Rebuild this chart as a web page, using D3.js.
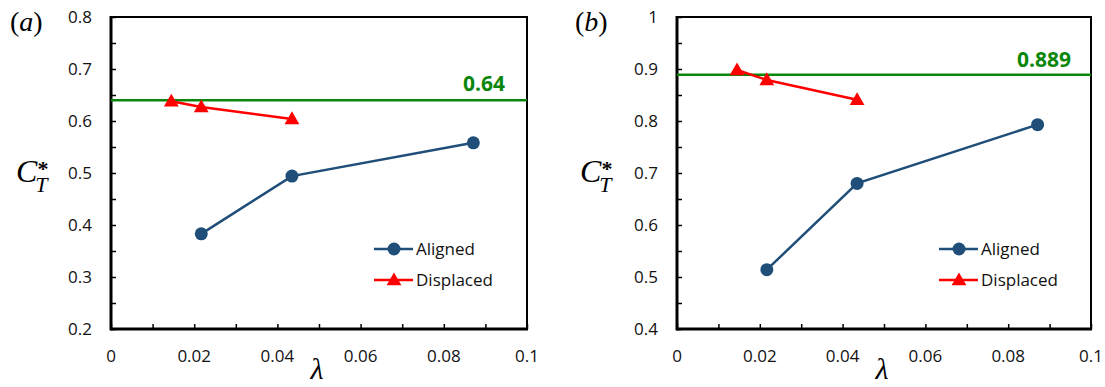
<!DOCTYPE html>
<html>
<head>
<meta charset="utf-8">
<script src="https://cdn.jsdelivr.net/npm/d3@7"></script>
<style>
    html, body { margin: 0; padding: 0; background: #fff; }
    svg { display: block; }
</style>
</head>
<body>
<div id="chart"></div>
<script>
// lambda values for each series
const alignedX = [0.0217, 0.0435, 0.0871];
const displacedX = [0.0145, 0.0217, 0.0435];

// panel (a)
const alignedA = [0.383, 0.494, 0.558];
const displacedA = [0.638, 0.627, 0.604];
const refA = 0.64;
const refLabelA = '0.64';
const yTicksA = [0.2, 0.3, 0.4, 0.5, 0.6, 0.7, 0.8];

// panel (b)
const alignedB = [0.514, 0.680, 0.793];
const displacedB = [0.898, 0.879, 0.841];
const refB = 0.889;
const refLabelB = '0.889';
const yTicksB = [0.4, 0.5, 0.6, 0.7, 0.8, 0.9, 1];

const xTicks = [0, 0.02, 0.04, 0.06, 0.08, 0.1];
const seriesNames = ['Aligned', 'Displaced'];

const COLORS = { aligned: '#1f4e79', displaced: '#ff0000', ref: '#0a870a', axis: '#000' };
const W = 1105, H = 387;
const SANS = 'Open Sans, sans-serif';
const SERIF = 'Liberation Serif, Times New Roman, serif';

const svg = d3.select('#chart').append('svg')
    .attr('width', W)
    .attr('height', H);

function drawPanel(opts) {
    const x = d3.scaleLinear().domain([0, 0.1]).range([opts.left, opts.right]);
    const y = d3.scaleLinear().domain([opts.yTicks[0], opts.yTicks[opts.yTicks.length - 1]]).range([opts.bottom, opts.top]);
    const g = svg.append('g');

    // plot frame (top/right thin)
    g.append('rect')
        .attr('x', opts.left).attr('y', opts.top)
        .attr('width', opts.right - opts.left).attr('height', opts.bottom - opts.top)
        .attr('fill', 'none').attr('stroke', COLORS.axis).attr('stroke-width', 2);

    // minor ticks, pointing inside
    const yMinor = d3.range(0, opts.yTicks.length * 2 - 1).map(i => opts.yTicks[0] + i * 0.05);
    const xMinor = d3.range(0, 11).map(i => i * 0.01);

    const yAxis = d3.axisRight(y).tickValues(yMinor).tickSize(5).tickFormat('');
    g.append('g').attr('transform', `translate(${opts.left},0)`).call(yAxis)
        .call(s => s.select('.domain').remove())
        .call(s => s.selectAll('line').attr('stroke-width', 1.5));

    const xAxis = d3.axisTop(x).tickValues(xMinor).tickSize(5).tickFormat('');
    g.append('g').attr('transform', `translate(0,${opts.bottom})`).call(xAxis)
        .call(s => s.select('.domain').remove())
        .call(s => s.selectAll('line').attr('stroke-width', 1.5));

    // thicker left/bottom axis lines
    g.append('line')
        .attr('x1', opts.left).attr('x2', opts.left)
        .attr('y1', opts.top - 1).attr('y2', opts.bottom + 1.5)
        .attr('stroke', COLORS.axis).attr('stroke-width', 3);
    g.append('line')
        .attr('x1', opts.left).attr('x2', opts.right + 1)
        .attr('y1', opts.bottom).attr('y2', opts.bottom)
        .attr('stroke', COLORS.axis).attr('stroke-width', 3);

    // tick labels
    g.selectAll('.ylab').data(opts.yTicks).enter().append('text')
        .attr('x', opts.left - 19)
        .attr('y', d => y(d) + 6)
        .attr('text-anchor', 'end')
        .attr('font-family', SANS)
        .attr('font-size', '17px')
        .attr('fill', '#111')
        .text(d => d3.format('~g')(d));

    g.selectAll('.xlab').data(xTicks).enter().append('text')
        .attr('x', d => x(d))
        .attr('y', opts.bottom + 33)
        .attr('text-anchor', 'middle')
        .attr('font-family', SANS)
        .attr('font-size', '17px')
        .attr('fill', '#111')
        .text(d => d3.format('~g')(d));

    // reference line
    g.append('line')
        .attr('x1', opts.left).attr('x2', opts.right)
        .attr('y1', y(opts.ref)).attr('y2', y(opts.ref))
        .attr('stroke', COLORS.ref).attr('stroke-width', 2.5);
    g.append('text')
        .attr('x', opts.right - opts.refPad)
        .attr('y', y(opts.ref) - opts.refGap)
        .attr('text-anchor', 'end')
        .attr('font-family', SANS)
        .attr('font-weight', 'bold')
        .attr('font-size', '21px')
        .attr('fill', COLORS.ref)
        .text(opts.refLabel);

    const line = d3.line().x(d => x(d[0])).y(d => y(d[1]));
    const tri = d3.symbol().type(d3.symbolTriangle).size(95);

    // aligned
    const aPts = alignedX.map((v, i) => [v, opts.aligned[i]]);
    g.append('path').datum(aPts).attr('d', line)
        .attr('fill', 'none').attr('stroke', COLORS.aligned).attr('stroke-width', 2.5);
    g.selectAll('.ac').data(aPts).enter().append('circle')
        .attr('cx', d => x(d[0])).attr('cy', d => y(d[1])).attr('r', 6.5)
        .attr('fill', COLORS.aligned);

    // displaced
    const dPts = displacedX.map((v, i) => [v, opts.displaced[i]]);
    g.append('path').datum(dPts).attr('d', line)
        .attr('fill', 'none').attr('stroke', COLORS.displaced).attr('stroke-width', 2.5);
    g.selectAll('.dt').data(dPts).enter().append('path')
        .attr('d', tri)
        .attr('transform', d => `translate(${x(d[0])},${y(d[1]) + 1})`)
        .attr('fill', COLORS.displaced);

    // legend
    const legColors = [COLORS.aligned, COLORS.displaced];
    seriesNames.forEach((name, i) => {
        const ly = 249 + i * 31;
        g.append('line')
            .attr('x1', opts.legX).attr('x2', opts.legX + 39)
            .attr('y1', ly).attr('y2', ly)
            .attr('stroke', legColors[i]).attr('stroke-width', 2.5);
        if (i === 0) {
            g.append('circle').attr('cx', opts.legX + 20).attr('cy', ly).attr('r', 6.5).attr('fill', legColors[i]);
        } else {
            g.append('path').attr('d', tri).attr('transform', `translate(${opts.legX + 20},${ly + 1})`).attr('fill', legColors[i]);
        }
        g.append('text')
            .attr('x', opts.legX + 42)
            .attr('y', ly + 6)
            .attr('font-family', SANS)
            .attr('font-size', '17px')
            .attr('fill', '#111')
            .text(name);
    });

    // y axis title C_T^*
    const yt = g.append('text')
        .attr('x', opts.titleX).attr('y', 182)
        .attr('font-family', SERIF).attr('font-style', 'italic');
    yt.append('tspan').attr('font-size', '32px').text('C');
    yt.append('tspan').attr('font-size', '22px').attr('dy', 10).attr('dx', -2).text('T');
    yt.append('tspan').attr('font-size', '22px').attr('font-style', 'normal').attr('font-weight', 'bold')
        .attr('dy', -16).attr('dx', -10).text('*');

    g.append('text')
        .attr('x', (opts.left + opts.right) / 2 - 2)
        .attr('y', 379)
        .attr('text-anchor', 'middle')
        .attr('font-family', SERIF)
        .attr('font-style', 'italic')
        .attr('font-size', '30px')
        .text('λ');

    // panel tag
    const tag = g.append('text')
        .attr('x', opts.tagX)
        .attr('y', 31)
        .attr('font-family', SERIF)
        .attr('font-size', '28px');
    tag.append('tspan').text('(');
    tag.append('tspan').attr('font-style', 'italic').text(opts.tag);
    tag.append('tspan').text(')');
}

drawPanel({
    left: 111, right: 527, top: 17, bottom: 329,
    yTicks: yTicksA, aligned: alignedA, displaced: displacedA,
    ref: refA, refLabel: refLabelA, refPad: 22, refGap: 9,
    legX: 374, titleX: 16, tagX: 10, tag: 'a'
});

drawPanel({
    left: 677, right: 1091, top: 17, bottom: 329,
    yTicks: yTicksB, aligned: alignedB, displaced: displacedB,
    ref: refB, refLabel: refLabelB, refPad: 20, refGap: 7.5,
    legX: 939, titleX: 580, tagX: 575, tag: 'b'
});
</script>
</body>
</html>
